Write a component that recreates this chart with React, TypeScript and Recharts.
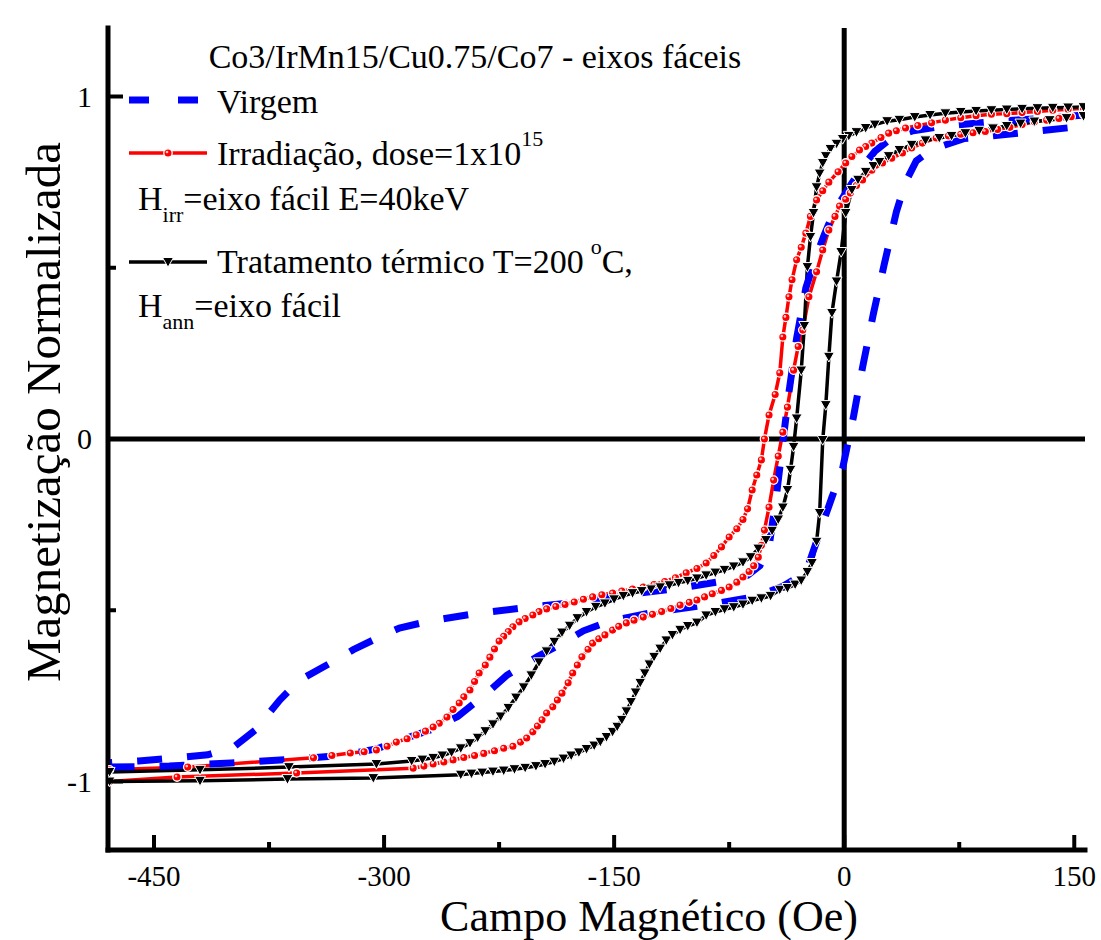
import React from "react";
import { LineChart, Line, XAxis, YAxis, ReferenceLine } from "recharts";

// [field (Oe), normalized magnetization]
const virgemDown: number[][] = [
  [156, 0.946], [133, 0.937], [100, 0.928], [66, 0.914], [45, 0.9], [31, 0.879],
  [20, 0.84], [12, 0.795], [5, 0.747], [-3, 0.69], [-8, 0.65], [-13, 0.596],
  [-19, 0.525], [-25, 0.441], [-31, 0.295], [-36, 0.137], [-40, -0.01], [-44, -0.158],
  [-49, -0.315], [-55, -0.37], [-63, -0.398], [-75, -0.412], [-107, -0.435],
  [-142, -0.455], [-173, -0.476], [-205, -0.491], [-238, -0.508], [-270, -0.531],
  [-290, -0.552], [-303, -0.578], [-320, -0.615], [-335, -0.654], [-355, -0.704],
  [-368, -0.762], [-384, -0.85], [-398, -0.899], [-415, -0.922], [-433, -0.93],
  [-460, -0.94], [-479, -0.945],
];

const virgemUp: number[][] = [
  [-479, -0.958], [-440, -0.955], [-400, -0.946], [-360, -0.935], [-330, -0.925],
  [-305, -0.905], [-290, -0.88], [-270, -0.85], [-252, -0.81], [-235, -0.75],
  [-220, -0.69], [-200, -0.635], [-185, -0.6], [-170, -0.56], [-155, -0.535],
  [-140, -0.52], [-123, -0.505], [-90, -0.485], [-58, -0.46], [-40, -0.43],
  [-25, -0.39], [-15, -0.26], [-8, -0.17], [-1, -0.085], [6, 0.064], [12, 0.21],
  [19, 0.365], [26, 0.508], [34, 0.663], [40, 0.75], [47, 0.812], [57, 0.845],
  [78, 0.877], [114, 0.893], [147, 0.909], [156, 0.913],
];

const irradDown: number[][] = [
  [156, 0.966], [146, 0.963], [136, 0.96], [126, 0.956], [116, 0.953], [106, 0.95],
  [96, 0.948], [86, 0.944], [76, 0.938], [66, 0.931], [57, 0.923], [48, 0.915],
  [40, 0.908], [34, 0.9], [29, 0.893], [24, 0.88], [18, 0.864], [14, 0.854],
  [10, 0.844], [5, 0.825], [1, 0.806], [-4, 0.78], [-10, 0.75], [-14, 0.725],
  [-18, 0.698], [-22, 0.65], [-25, 0.601], [-28, 0.56], [-31, 0.523], [-34, 0.465],
  [-36, 0.415], [-38, 0.355], [-40, 0.298], [-42, 0.193], [-45, 0.13], [-49, 0.07],
  [-52, 0.0], [-54, -0.061], [-57, -0.105], [-60, -0.149], [-63, -0.204],
  [-66, -0.235], [-70, -0.262], [-75, -0.286], [-80, -0.315], [-85, -0.34],
  [-90, -0.362], [-96, -0.378], [-103, -0.391], [-110, -0.405], [-117, -0.416],
  [-124, -0.425], [-131, -0.432], [-138, -0.438], [-145, -0.444], [-151, -0.45],
  [-158, -0.455], [-164, -0.461], [-170, -0.468], [-176, -0.476], [-182, -0.483],
  [-188, -0.489], [-194, -0.496], [-199, -0.504], [-203, -0.514], [-208, -0.524],
  [-212, -0.534], [-216, -0.548], [-219, -0.562], [-222, -0.576], [-225, -0.59],
  [-228, -0.613], [-231, -0.637], [-234, -0.66], [-238, -0.683], [-241, -0.708],
  [-244, -0.733], [-248, -0.753], [-251, -0.771], [-255, -0.79], [-259, -0.812],
  [-264, -0.83], [-268, -0.841], [-273, -0.853], [-279, -0.864], [-285, -0.875],
  [-292, -0.885], [-298, -0.897], [-305, -0.908], [-313, -0.913], [-322, -0.917],
  [-334, -0.924], [-346, -0.931], [-428, -0.958], [-479, -0.966],
];

const irradUp: number[][] = [
  [-479, -1.0], [-435, -0.987], [-357, -0.975], [-281, -0.961], [-274, -0.955],
  [-268, -0.949], [-261, -0.943], [-255, -0.937], [-248, -0.93], [-241, -0.924],
  [-235, -0.918], [-228, -0.91], [-222, -0.903], [-216, -0.897], [-211, -0.885],
  [-207, -0.873], [-203, -0.855], [-200, -0.838], [-197, -0.82], [-194, -0.8],
  [-190, -0.782], [-187, -0.762], [-184, -0.742], [-180, -0.712], [-177, -0.683],
  [-174, -0.66], [-171, -0.636], [-167, -0.614], [-164, -0.596], [-160, -0.583],
  [-156, -0.572], [-151, -0.558], [-147, -0.547], [-142, -0.537], [-137, -0.529],
  [-131, -0.52], [-125, -0.512], [-119, -0.504], [-113, -0.495], [-107, -0.485],
  [-101, -0.477], [-96, -0.47], [-91, -0.461], [-86, -0.452], [-80, -0.442],
  [-75, -0.432], [-70, -0.418], [-66, -0.403], [-62, -0.387], [-59, -0.37],
  [-56, -0.345], [-54, -0.31], [-52, -0.266], [-49, -0.199], [-46, -0.12],
  [-43, -0.05], [-40, 0.02], [-37, 0.093], [-33, 0.201], [-30, 0.27], [-27, 0.318],
  [-23, 0.415], [-18, 0.488], [-14, 0.552], [-10, 0.61], [-6, 0.65], [-3, 0.68],
  [1, 0.7], [4, 0.718], [8, 0.74], [12, 0.756], [18, 0.785], [25, 0.806],
  [31, 0.82], [38, 0.835], [44, 0.85], [51, 0.864], [60, 0.879], [68, 0.885],
  [76, 0.89], [84, 0.894], [92, 0.898], [100, 0.904], [108, 0.91], [116, 0.918],
  [124, 0.926], [132, 0.931], [140, 0.936], [148, 0.941], [156, 0.948],
];

const annealDown: number[][] = [
  [156, 0.969], [146, 0.968], [136, 0.967], [126, 0.966], [116, 0.964], [106, 0.962],
  [96, 0.96], [86, 0.958], [76, 0.955], [66, 0.951], [56, 0.946], [46, 0.94],
  [36, 0.932], [28, 0.928], [20, 0.918], [14, 0.908], [8, 0.896], [3, 0.885],
  [-1, 0.876], [-5, 0.862], [-9, 0.847], [-12, 0.826], [-14, 0.806], [-16, 0.775],
  [-18, 0.735], [-20, 0.66], [-22, 0.59], [-24, 0.502], [-26, 0.33], [-28, 0.2],
  [-31, 0.06], [-33, -0.023], [-35, -0.09], [-37, -0.149], [-40, -0.2],
  [-43, -0.235], [-47, -0.268], [-51, -0.295], [-56, -0.32], [-61, -0.345],
  [-66, -0.36], [-72, -0.372], [-78, -0.382], [-84, -0.39], [-90, -0.398],
  [-96, -0.407], [-102, -0.414], [-108, -0.42], [-114, -0.427], [-120, -0.433],
  [-126, -0.439], [-132, -0.444], [-138, -0.45], [-144, -0.458], [-150, -0.468],
  [-156, -0.48], [-162, -0.49], [-168, -0.505], [-174, -0.523], [-179, -0.545],
  [-184, -0.565], [-189, -0.592], [-194, -0.62], [-199, -0.652], [-204, -0.69],
  [-209, -0.725], [-214, -0.755], [-219, -0.785], [-224, -0.81], [-229, -0.833],
  [-234, -0.853], [-239, -0.872], [-244, -0.888], [-250, -0.903], [-256, -0.915],
  [-262, -0.924], [-268, -0.931], [-275, -0.936], [-282, -0.94], [-305, -0.949],
  [-362, -0.958], [-420, -0.966], [-479, -0.972],
];

const annealUp: number[][] = [
  [-479, -1.0], [-420, -0.998], [-363, -0.993], [-307, -0.99], [-250, -0.98],
  [-243, -0.977], [-236, -0.974], [-229, -0.971], [-222, -0.968], [-215, -0.964],
  [-208, -0.96], [-201, -0.955], [-195, -0.949], [-189, -0.942], [-183, -0.933],
  [-178, -0.924], [-173, -0.915], [-168, -0.905], [-163, -0.895], [-159, -0.884],
  [-155, -0.87], [-151, -0.855], [-148, -0.84], [-145, -0.82], [-142, -0.795],
  [-139, -0.768], [-136, -0.74], [-133, -0.712], [-130, -0.684], [-127, -0.658],
  [-124, -0.636], [-120, -0.612], [-116, -0.588], [-112, -0.572], [-107, -0.557],
  [-102, -0.546], [-96, -0.536], [-90, -0.515], [-84, -0.505], [-78, -0.497],
  [-72, -0.491], [-66, -0.483], [-60, -0.472], [-54, -0.465], [-48, -0.458],
  [-42, -0.44], [-37, -0.435], [-32, -0.425], [-28, -0.413], [-24, -0.388],
  [-21, -0.362], [-18, -0.3], [-16, -0.216], [-14, -0.003], [-12, 0.099],
  [-10, 0.24], [-8, 0.368], [-5, 0.46], [-2, 0.546], [1, 0.66], [5, 0.727],
  [9, 0.757], [14, 0.78], [19, 0.797], [23, 0.809], [29, 0.826], [36, 0.844],
  [44, 0.859], [53, 0.872], [62, 0.879], [70, 0.885], [79, 0.893], [88, 0.9],
  [97, 0.907], [106, 0.914], [115, 0.921], [124, 0.927], [134, 0.931],
  [145, 0.937], [156, 0.943],
];

const xTicks = [-450, -375, -300, -225, -150, -75, 0, 75, 150];
const xLabels = [-450, -300, -150, 0, 150];
const yTicks = [-1, -0.5, 0, 0.5, 1];
const yLabels = [-1, 0, 1];

const SERIF = { fontFamily: '"Liberation Serif", "Times New Roman", serif' };
const BLUE = "#0000ff";
const RED = "#ff0000";
const BLUE_DASH = "25 25";
const FRAME_W = 5;

const toPoints = (rows: number[][]) => rows.map(([h, m]) => ({ h, m }));

function BottomTick({ x, y, payload }: any) {
  const major = xLabels.includes(payload.value);
  return (
    <g>
      <line x1={x} x2={x} y1={y} y2={y - (major ? 15 : 8)} stroke="#000" strokeWidth={4} />
      {major && (
        <text x={x} y={y + 36} textAnchor="middle" fontSize={29} style={SERIF} fill="#000">
          {payload.value}
        </text>
      )}
    </g>
  );
}

function TopTick({ x, y, payload }: any) {
  const major = xLabels.includes(payload.value);
  return <line x1={x} x2={x} y1={y} y2={y + (major ? 15 : 8)} stroke="#000" strokeWidth={4} />;
}

function LeftTick({ x, y, payload }: any) {
  const major = yLabels.includes(payload.value);
  return (
    <g>
      <line x1={x} x2={x + (major ? 15 : 8)} y1={y} y2={y} stroke="#000" strokeWidth={4} />
      {major && (
        <text x={x - 16} y={y + 10} textAnchor="end" fontSize={30} style={SERIF} fill="#000">
          {payload.value}
        </text>
      )}
    </g>
  );
}

function RightTick({ x, y, payload }: any) {
  const major = yLabels.includes(payload.value);
  return <line x1={x} x2={x - (major ? 15 : 8)} y1={y} y2={y} stroke="#000" strokeWidth={4} />;
}

function RedDot({ cx, cy }: { cx: number; cy: number }) {
  return (
    <g>
      <circle cx={cx} cy={cy} r={4.2} fill={RED} stroke="#fff" strokeWidth={1.3} />
      <circle cx={cx - 1} cy={cy - 1} r={1.3} fill="#ffc8c8" />
    </g>
  );
}

function Triangle({ cx, cy }: { cx: number; cy: number }) {
  return (
    <polygon
      points={`${cx - 5.5},${cy - 4.5} ${cx + 5.5},${cy - 4.5} ${cx},${cy + 5.2}`}
      fill="#000"
      stroke="#fff"
      strokeWidth={1}
    />
  );
}

const axisLine = { stroke: "#000", strokeWidth: FRAME_W, strokeLinecap: "square" as const };

export default function App() {
  return (
    <div style={{ position: "relative", width: 1101, height: 940, background: "#fff" }}>
      <style>{"body{margin:0}"}</style>
      <LineChart width={1101} height={940} margin={{ top: 28, right: 16, bottom: 0, left: 0 }}>
        <XAxis
          dataKey="h"
          type="number"
          domain={[-480, 157]}
          ticks={xTicks}
          interval={0}
          height={90}
          tickSize={0}
          tickMargin={0}
          tickLine={false}
          axisLine={axisLine}
          tick={<BottomTick />}
          allowDataOverflow
        />
        <XAxis
          xAxisId="top"
          orientation="top"
          type="number"
          domain={[-480, 157]}
          ticks={xTicks}
          interval={0}
          height={0}
          tickSize={0}
          tickMargin={0}
          tickLine={false}
          axisLine={axisLine}
          tick={<TopTick />}
          allowDataOverflow
        />
        <YAxis
          dataKey="m"
          type="number"
          domain={[-1.2, 1.2]}
          ticks={yTicks}
          interval={0}
          width={108}
          tickSize={0}
          tickMargin={0}
          tickLine={false}
          axisLine={axisLine}
          tick={<LeftTick />}
          allowDataOverflow
        />
        <YAxis
          yAxisId="right"
          orientation="right"
          type="number"
          domain={[-1.2, 1.2]}
          ticks={yTicks}
          interval={0}
          width={0}
          tickSize={0}
          tickMargin={0}
          tickLine={false}
          axisLine={axisLine}
          tick={<RightTick />}
          allowDataOverflow
        />
        <ReferenceLine x={0} stroke="#000" strokeWidth={FRAME_W} />
        <ReferenceLine y={0} stroke="#000" strokeWidth={FRAME_W} />

        <Line
          data={toPoints(irradDown)}
          dataKey="m"
          stroke={RED}
          strokeWidth={3.5}
          dot={(p: any) => <RedDot key={`rd${p.index}`} cx={p.cx} cy={p.cy} />}
          isAnimationActive={false}
        />
        <Line
          data={toPoints(irradUp)}
          dataKey="m"
          stroke={RED}
          strokeWidth={3.5}
          dot={(p: any) => <RedDot key={`ru${p.index}`} cx={p.cx} cy={p.cy} />}
          isAnimationActive={false}
        />
        <Line
          data={toPoints(annealDown)}
          dataKey="m"
          stroke="#000"
          strokeWidth={3.5}
          dot={(p: any) => <Triangle key={`ad${p.index}`} cx={p.cx} cy={p.cy} />}
          isAnimationActive={false}
        />
        <Line
          data={toPoints(annealUp)}
          dataKey="m"
          stroke="#000"
          strokeWidth={3.5}
          dot={(p: any) => <Triangle key={`au${p.index}`} cx={p.cx} cy={p.cy} />}
          isAnimationActive={false}
        />
        <Line
          data={toPoints(virgemDown)}
          dataKey="m"
          stroke={BLUE}
          strokeWidth={7}
          strokeDasharray={BLUE_DASH}
          dot={false}
          isAnimationActive={false}
        />
        <Line
          data={toPoints(virgemUp)}
          dataKey="m"
          stroke={BLUE}
          strokeWidth={7}
          strokeDasharray={BLUE_DASH}
          dot={false}
          isAnimationActive={false}
        />
      </LineChart>

      <svg
        width={1101}
        height={940}
        style={{ position: "absolute", left: 0, top: 0, pointerEvents: "none", ...SERIF }}
        fill="#000"
      >
        <text x={649} y={931} textAnchor="middle" fontSize={44} style={SERIF}>
          Campo Magnético (Oe)
        </text>
        <text transform="translate(60,412) rotate(-90)" textAnchor="middle" fontSize={49} style={SERIF}>
          Magnetização Normalizada
        </text>

        <text x={475} y={68} textAnchor="middle" fontSize={34} style={SERIF}>
          Co3/IrMn15/Cu0.75/Co7 - eixos fáceis
        </text>

        <line x1={129} x2={199} y1={100} y2={100} stroke={BLUE} strokeWidth={7} strokeDasharray="20 29" />
        <text x={217} y={113} fontSize={34} style={SERIF}>Virgem</text>

        <line x1={129} x2={207} y1={153} y2={153} stroke={RED} strokeWidth={3.5} />
        <RedDot cx={168} cy={153} />
        <text x={217} y={165} fontSize={34} style={SERIF}>
          Irradiação, dose=1x10
          <tspan fontSize={22} dy={-19}>15</tspan>
        </text>
        <text x={138} y={210} fontSize={34} style={SERIF}>
          H
          <tspan fontSize={22} dy={12}>irr</tspan>
          <tspan dy={-12}>=eixo fácil E=40keV</tspan>
        </text>

        <line x1={129} x2={207} y1={262} y2={262} stroke="#000" strokeWidth={3.5} />
        <Triangle cx={168} cy={262} />
        <text x={217} y={273} fontSize={34} style={SERIF}>
          Tratamento térmico T=200
          <tspan fontSize={22} dy={-19} dx={7}>o</tspan>
          <tspan dy={19}>C,</tspan>
        </text>
        <text x={138} y={317} fontSize={34} style={SERIF}>
          H
          <tspan fontSize={22} dy={12}>ann</tspan>
          <tspan dy={-12}>=eixo fácil</tspan>
        </text>
      </svg>
    </div>
  );
}
